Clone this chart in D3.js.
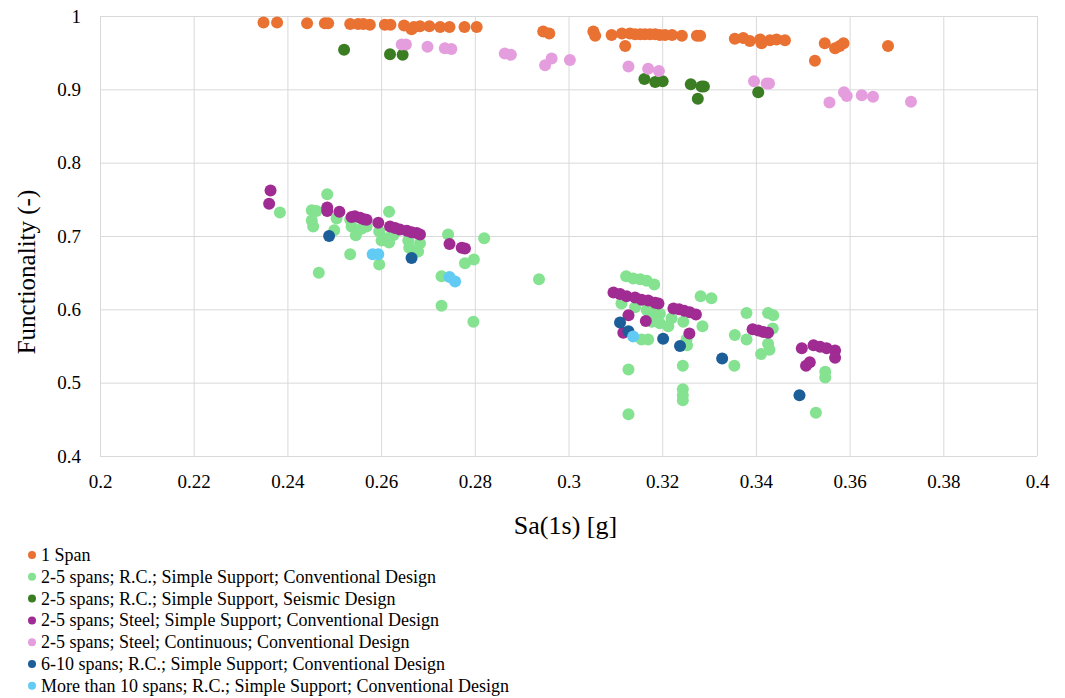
<!DOCTYPE html>
<html>
<head>
<meta charset="utf-8">
<script src="https://cdn.jsdelivr.net/npm/d3@7"></script>
<style>
  body { margin: 0; background: #fff; }
  svg { display: block; font-family: "Liberation Serif", "Times New Roman", serif; }
</style>
</head>
<body>
<svg id="chart" width="1065" height="698"></svg>
<script>
// data: [Sa(1s), functionality]
const oneSpan = [
  [0.2349,0.991],[0.2378,0.991],[0.2442,0.990],[0.2480,0.990],[0.2487,0.990],[0.2534,0.989],
  [0.2551,0.989],[0.2562,0.989],[0.2576,0.988],[0.2608,0.988],[0.2620,0.988],[0.2649,0.987],
  [0.2665,0.982],[0.2670,0.985],[0.2683,0.986],[0.2703,0.986],[0.2726,0.985],[0.2746,0.985],
  [0.2778,0.985],[0.2804,0.985],[0.2946,0.979],[0.2959,0.976],[0.3053,0.979],[0.3057,0.973],
  [0.3092,0.974],[0.3114,0.976],[0.3121,0.959],[0.3131,0.976],[0.3142,0.975],[0.3153,0.975],
  [0.3163,0.975],[0.3174,0.975],[0.3185,0.975],[0.3195,0.974],[0.3206,0.974],[0.3221,0.974],
  [0.3242,0.973],[0.3274,0.973],[0.3281,0.973],[0.3355,0.969],[0.3373,0.970],[0.3387,0.966],
  [0.3409,0.968],[0.3412,0.963],[0.3430,0.967],[0.3444,0.968],[0.3462,0.967],[0.3526,0.939],
  [0.3547,0.963],[0.3569,0.956],[0.3579,0.959],[0.3587,0.963],[0.3682,0.959]
];
const rcSimpleConv = [
  [0.2384,0.732],[0.2485,0.757],[0.2452,0.735],[0.2462,0.734],[0.2452,0.721],[0.2455,0.713],
  [0.2505,0.724],[0.2500,0.708],[0.2467,0.650],[0.2534,0.722],[0.2537,0.713],[0.2546,0.701],
  [0.2534,0.675],[0.2558,0.710],[0.2569,0.713],[0.2617,0.733],[0.2596,0.706],[0.2601,0.694],
  [0.2612,0.697],[0.2617,0.691],[0.2626,0.701],[0.2596,0.661],[0.2658,0.694],[0.2660,0.684],
  [0.2679,0.679],[0.2683,0.690],[0.2743,0.702],[0.2729,0.645],[0.2729,0.605],[0.2779,0.663],
  [0.2798,0.668],[0.2820,0.697],[0.2797,0.583],[0.2937,0.641],
  [0.3123,0.645],[0.3138,0.642],[0.3153,0.641],[0.3167,0.639],[0.3183,0.634],[0.3113,0.608],
  [0.3142,0.603],[0.3167,0.599],[0.3181,0.595],[0.3195,0.594],[0.3178,0.583],[0.3195,0.581],
  [0.3213,0.577],[0.3220,0.588],[0.3245,0.583],[0.3156,0.559],[0.3170,0.559],[0.3252,0.559],
  [0.3253,0.551],[0.3128,0.518],[0.3244,0.523],[0.3244,0.491],[0.3244,0.483],[0.3244,0.476],
  [0.3128,0.457],[0.3282,0.618],[0.3305,0.615],[0.3286,0.577],[0.3355,0.565],[0.3380,0.595],
  [0.3380,0.559],[0.3354,0.523],[0.3426,0.595],[0.3437,0.592],[0.3436,0.574],[0.3426,0.553],
  [0.3429,0.545],[0.3411,0.539],[0.3548,0.515],[0.3548,0.507],[0.3528,0.459]
];
const rcSimpleSeismic = [
  [0.2521,0.954],[0.2619,0.948],[0.2646,0.947],[0.3162,0.914],[0.3185,0.910],[0.3201,0.911],
  [0.3261,0.907],[0.3284,0.904],[0.3289,0.904],[0.3276,0.887],[0.3405,0.896]
];
const steelSimpleConv = [
  [0.2364,0.762],[0.2361,0.744],[0.2485,0.739],[0.2485,0.734],[0.2511,0.733],[0.2537,0.726],
  [0.2544,0.727],[0.2555,0.725],[0.2563,0.723],[0.2569,0.722],[0.2594,0.718],[0.2619,0.713],
  [0.2630,0.711],[0.2640,0.709],[0.2655,0.707],[0.2665,0.705],[0.2676,0.704],[0.2683,0.702],
  [0.2746,0.689],[0.2772,0.684],[0.2779,0.683],
  [0.3096,0.623],[0.3110,0.621],[0.3124,0.618],[0.3142,0.616],[0.3156,0.613],[0.3170,0.612],
  [0.3185,0.609],[0.3192,0.608],[0.3128,0.592],[0.3117,0.568],[0.3165,0.584],
  [0.3224,0.601],[0.3236,0.600],[0.3247,0.598],[0.3259,0.596],[0.3272,0.593],[0.3258,0.567],
  [0.3393,0.573],[0.3405,0.571],[0.3416,0.569],[0.3426,0.568],
  [0.3498,0.547],[0.3523,0.551],[0.3537,0.549],[0.3551,0.547],[0.3569,0.544],[0.3569,0.534],
  [0.3507,0.523],[0.3515,0.528]
];
const steelContConv = [
  [0.2644,0.961],[0.2653,0.961],[0.2699,0.958],[0.2736,0.956],[0.2750,0.955],[0.2864,0.949],
  [0.2877,0.947],[0.2950,0.933],[0.2964,0.942],[0.3003,0.940],[0.3128,0.931],[0.3170,0.928],
  [0.3193,0.925],[0.3396,0.911],[0.3423,0.908],[0.3428,0.908],[0.3557,0.882],[0.3588,0.896],
  [0.3594,0.891],[0.3626,0.892],[0.3650,0.890],[0.3731,0.883]
];
const rc610Conv = [
  [0.2489,0.700],[0.2665,0.670],[0.3110,0.582],[0.3128,0.570],[0.3202,0.560],[0.3238,0.550],
  [0.3328,0.533],[0.3493,0.483]
];
const rc10Conv = [
  [0.2582,0.675],[0.2594,0.675],[0.2746,0.644],[0.2758,0.638],[0.3138,0.563]
];

const seriesNames = [
  '1 Span',
  '2-5 spans; R.C.; Simple Support; Conventional Design',
  '2-5 spans; R.C.; Simple Support, Seismic Design',
  '2-5 spans; Steel; Simple Support; Conventional Design',
  '2-5 spans; Steel; Continuous; Conventional Design',
  '6-10 spans; R.C.; Simple Support; Conventional Design',
  'More than 10 spans; R.C.; Simple Support; Conventional Design'
];
const seriesData = [oneSpan, rcSimpleConv, rcSimpleSeismic, steelSimpleConv, steelContConv, rc610Conv, rc10Conv];
const seriesColors = ['#E97132', '#84E291', '#3B7D23', '#A02B93', '#E59EDD', '#1B5E98', '#61CBF3'];
const xTicks = [0.2, 0.22, 0.24, 0.26, 0.28, 0.3, 0.32, 0.34, 0.36, 0.38, 0.4];
const yTicks = [0.4, 0.5, 0.6, 0.7, 0.8, 0.9, 1];

const svg = d3.select('#chart');
const plot = { left: 100, right: 1037, top: 16, bottom: 456 };

const x = d3.scaleLinear().domain([0.2, 0.4]).range([plot.left, plot.right]);
const y = d3.scaleLinear().domain([0.4, 1]).range([plot.bottom, plot.top]);

// grid + tick labels
svg.append('g')
  .attr('transform', `translate(0,${plot.bottom})`)
  .call(d3.axisBottom(x).tickValues(xTicks).tickSize(-(plot.bottom - plot.top)).tickFormat(d => d))
  .attr('font-family', 'Liberation Serif').attr('font-size', 19)
  .call(g => g.select('.domain').remove())
  .call(g => g.selectAll('line').attr('stroke', '#d9d9d9'))
  .call(g => g.selectAll('text').attr('dy', null).attr('y', 32).attr('fill', '#000'));

svg.append('g')
  .attr('transform', `translate(${plot.left},0)`)
  .call(d3.axisLeft(y).tickValues(yTicks).tickSize(-(plot.right - plot.left)).tickFormat(d => d))
  .attr('font-family', 'Liberation Serif').attr('font-size', 19)
  .call(g => g.select('.domain').remove())
  .call(g => g.selectAll('line').attr('stroke', '#d9d9d9'))
  .call(g => g.selectAll('text').attr('x', -19).attr('dy', '0.33em').attr('fill', '#000'));

// points, drawn series by series
seriesData.forEach((data, i) => {
  svg.append('g').selectAll('circle')
    .data(data)
    .join('circle')
    .attr('cx', d => x(d[0]))
    .attr('cy', d => y(d[1]))
    .attr('r', 6)
    .attr('fill', seriesColors[i]);
});

// axis titles
svg.append('text')
  .attr('x', (plot.left + plot.right) / 2 - 3)
  .attr('y', 534)
  .attr('text-anchor', 'middle')
  .style('font-size', '26px')
  .text('Sa(1s) [g]');

svg.append('text')
  .attr('transform', 'translate(35,272) rotate(-90)')
  .attr('text-anchor', 'middle')
  .style('font-size', '25px')
  .text('Functionality (-)');

// legend
const legend = svg.append('g').selectAll('g')
  .data(seriesNames)
  .join('g')
  .attr('transform', (d, i) => `translate(32,${555 + i * 21.8})`);
legend.append('circle').attr('r', 4).attr('fill', (d, i) => seriesColors[i]);
legend.append('text')
  .attr('x', 9)
  .attr('dy', '0.33em')
  .style('font-size', '18px')
  .text(d => d);
</script>
</body>
</html>
